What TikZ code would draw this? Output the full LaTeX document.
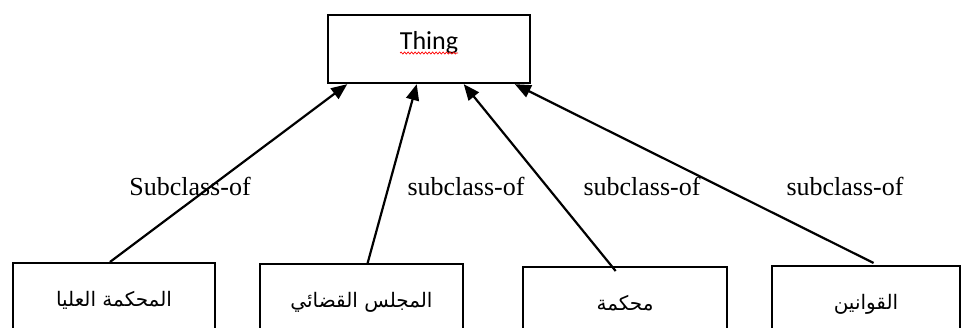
\documentclass[tikz,border=0pt]{standalone}
\usepackage{fontspec}
\usepackage{tikz}
\usetikzlibrary{calc}
\usetikzlibrary{positioning}
\usetikzlibrary{arrows.meta}
\usetikzlibrary{decorations.pathmorphing}
\TeXXeTstate=1
\setmainfont{Liberation Serif}
\newfontfamily\arabicfont[Script=Arabic]{DejaVu Sans}
\newfontfamily\thingfont{Carlito}

\begin{document}
\begin{tikzpicture}[x=1pt,y=-1pt,
	classbox/.style={draw,line width=2pt,minimum width=202pt,minimum height=86pt,inner sep=0pt,text height=10pt,text depth=10pt,font=\arabicfont\fontsize{20}{24}\selectfont},
	isa/.style={line width=2.2pt,-{Triangle[length=16pt,width=13pt]}},
	relname/.style={font=\fontsize{26}{30}\selectfont,inner sep=0pt}]
			\useasboundingbox (0,0) rectangle (963,327);
			\clip (0,0) rectangle (963,327);
			%top class
			\node[draw,line width=2.3pt,minimum width=202pt,minimum height=68pt,inner sep=0pt,text height=12pt,text depth=12pt,font=\thingfont\fontsize{26}{30}\selectfont] (thing) at (429,49) {Thing};
			\draw[red,line width=0.7pt,decorate,decoration={snake,amplitude=1pt,segment length=3.5pt}] ($(thing.base)+(-29,4)$)--($(thing.base)+(29,4)$);
			%sub classes
			\node[classbox] (supreme) at (114,306) {\beginR المحكمة العليا\endR};
			\node[classbox,minimum width=203pt] (council) at (361.5,307) {\beginR المجلس القضائي\endR};
			\node[classbox,minimum width=204pt] (court) at (625,310) {\beginR محكمة\endR};
			\node[classbox,minimum width=188pt] (laws) at (866,309) {\beginR القوانين\endR};
			%subclass-of links
			\draw[isa] ($(supreme.north west)!0.48!(supreme.north east)$)--($(thing.south west)!0.10!(thing.south east)$);
			\draw[isa] ($(council.north west)!0.53!(council.north east)$)--($(thing.south west)!0.44!(thing.south east)$);
			\draw[isa] ($(court.north west)!0.44!(court.north east)+(3,5)$)--($(thing.south west)!0.67!(thing.south east)$);
			\draw[isa] ($(laws.north west)!0.54!(laws.north east)+(0,-2)$)--($(thing.south west)!0.92!(thing.south east)$);
			\node[relname] (subA) at (190,186) {Subclass-of};
			\node[relname] (subB) at (466,186) {subclass-of};
			\node[relname] (subC) at (642,186) {subclass-of};
			\node[relname] (subD) at (845,186) {subclass-of};
		\end{tikzpicture}
\end{document}
